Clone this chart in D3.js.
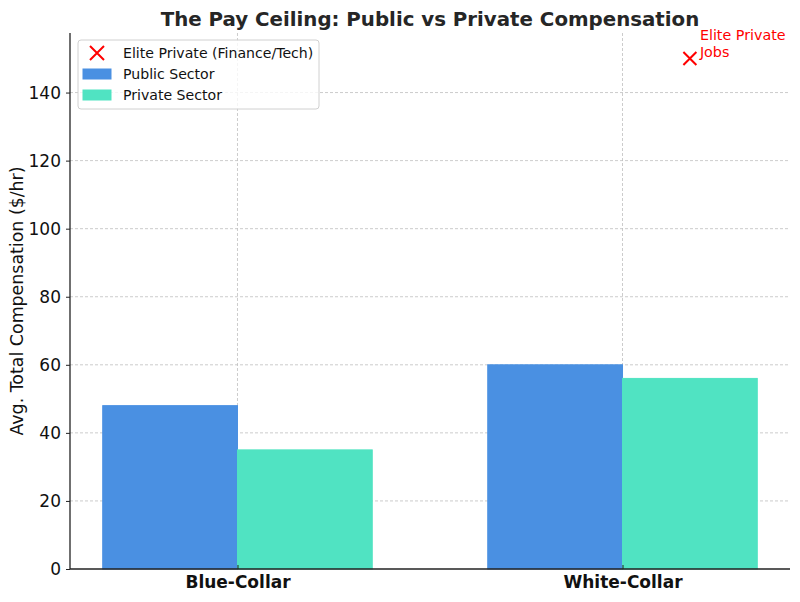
<!DOCTYPE html>
<html>
<head>
<meta charset="utf-8">
<script src="https://cdn.jsdelivr.net/npm/d3@7"></script>
<style>
    body { margin: 0; background: #fff; }
    text { font-family: "DejaVu Sans", sans-serif; }
</style>
</head>
<body>
<div id="chart"></div>
<script>
const categories = ['Blue-Collar', 'White-Collar'];
const publicValues = [48, 60];
const privateValues = [35, 56];
const eliteValue = 150;
const yTicks = [0, 20, 40, 60, 80, 100, 120, 140];
const seriesNames = ['Public Sector', 'Private Sector'];
const eliteLabel = 'Elite Private (Finance/Tech)';
const annotationLines = ['Elite Private', 'Jobs'];

const width = 800;
const height = 602;
const margin = { top: 33, right: 10, bottom: 33, left: 70 };
const innerWidth = width - margin.left - margin.right;
const innerHeight = height - margin.top - margin.bottom;

const publicColor = '#4A90E2';
const privateColor = '#50E3C2';
const gridColor = '#bfbfbf';
const textColor = '#111';
const barWidth = 0.35;

const svg = d3.select('#chart').append('svg')
    .attr('width', width)
    .attr('height', height);

svg.append('text')
    .attr('x', margin.left + innerWidth / 2)
    .attr('y', 26)
    .attr('text-anchor', 'middle')
    .attr('font-size', 19.8)
    .attr('font-weight', 'bold')
    .attr('fill', '#262626')
    .text('The Pay Ceiling: Public vs Private Compensation');

const chartGroup = svg.append('g')
    .attr('transform', `translate(${margin.left},${margin.top})`);

// numeric x like matplotlib: categories at 0, 1
const xScale = d3.scaleLinear()
    .domain([-0.435, 1.435])
    .range([0, innerWidth]);

const yScale = d3.scaleLinear()
    .domain([0, 157.5])
    .range([innerHeight, 0]);

// grid
chartGroup.append('g')
    .selectAll('line')
    .data(yTicks.slice(1))
    .enter()
    .append('line')
    .attr('x1', 0)
    .attr('x2', innerWidth)
    .attr('y1', (d) => yScale(d))
    .attr('y2', (d) => yScale(d))
    .attr('stroke', gridColor)
    .attr('stroke-width', 0.8)
    .attr('stroke-dasharray', '3,2');

chartGroup.append('g')
    .selectAll('line')
    .data(categories)
    .enter()
    .append('line')
    .attr('x1', (d, i) => xScale(i))
    .attr('x2', (d, i) => xScale(i))
    .attr('y1', 0)
    .attr('y2', innerHeight)
    .attr('stroke', gridColor)
    .attr('stroke-width', 0.8)
    .attr('stroke-dasharray', '3,2');

// bars
const barSeries = [
    { name: seriesNames[0], values: publicValues, offset: -barWidth / 2, color: publicColor },
    { name: seriesNames[1], values: privateValues, offset: barWidth / 2, color: privateColor }
];

barSeries.forEach((series) => {
    chartGroup.append('g')
        .selectAll('rect')
        .data(series.values)
        .enter()
        .append('rect')
        .attr('x', (d, i) => xScale(i + series.offset - barWidth / 2))
        .attr('y', (d) => yScale(d))
        .attr('width', xScale(barWidth) - xScale(0))
        .attr('height', (d) => innerHeight - yScale(d))
        .attr('fill', series.color)
        .attr('stroke', series.color)
        .attr('stroke-width', 1);
});

// elite marker at the private bar position of white-collar
const eliteX = xScale(1 + barWidth / 2);
const eliteY = yScale(eliteValue);
const cross = (g, cx, cy, r) => {
    g.append('path')
        .attr('d', `M${cx - r},${cy - r}L${cx + r},${cy + r}M${cx - r},${cy + r}L${cx + r},${cy - r}`)
        .attr('stroke', 'red')
        .attr('stroke-width', 2)
        .attr('fill', 'none');
};
cross(chartGroup, eliteX, eliteY, 6.5);

chartGroup.append('text')
    .attr('x', eliteX + 10)
    .attr('y', eliteY - 19)
    .attr('font-size', 14.3)
    .attr('fill', 'red')
    .selectAll('tspan')
    .data(annotationLines)
    .enter()
    .append('tspan')
    .attr('x', eliteX + 10)
    .attr('dy', (d, i) => i === 0 ? 0 : 17)
    .text((d) => d);

// axes
const yAxis = chartGroup.append('g')
    .call(d3.axisLeft(yScale).tickValues(yTicks).tickSize(4).tickPadding(5))
    .call((group) => group.select('.domain').remove());
yAxis.selectAll('text').attr('font-size', 17).attr('fill', textColor).attr('font-family', 'DejaVu Sans, sans-serif');
yAxis.selectAll('line').attr('stroke', '#222').attr('stroke-width', 1);

chartGroup.append('line')
    .attr('x1', 0).attr('x2', 0)
    .attr('y1', 0).attr('y2', innerHeight)
    .attr('stroke', '#222').attr('stroke-width', 1.3);

const xAxis = chartGroup.append('g')
    .attr('transform', `translate(0,${innerHeight})`)
    .call(d3.axisBottom(xScale).tickValues([0, 1]).tickFormat((d) => categories[d]).tickSize(-4).tickPadding(7))
    .call((group) => group.select('.domain').remove());
xAxis.selectAll('text')
    .attr('font-size', 17)
    .attr('font-weight', 'bold')
    .attr('fill', textColor)
    .attr('font-family', 'DejaVu Sans, sans-serif');
xAxis.selectAll('line').attr('stroke', '#222');

chartGroup.append('line')
    .attr('x1', 0).attr('x2', innerWidth)
    .attr('y1', innerHeight).attr('y2', innerHeight)
    .attr('stroke', '#222').attr('stroke-width', 1.3);

svg.append('text')
    .attr('transform', 'rotate(-90)')
    .attr('x', -(margin.top + innerHeight / 2))
    .attr('y', 23)
    .attr('text-anchor', 'middle')
    .attr('font-size', 17.4)
    .attr('fill', textColor)
    .text('Avg. Total Compensation ($/hr)');

// legend
const legend = svg.append('g').attr('transform', 'translate(78,40)');
legend.append('rect')
    .attr('width', 241)
    .attr('height', 69)
    .attr('rx', 3)
    .attr('fill', '#fff')
    .attr('fill-opacity', 0.8)
    .attr('stroke', '#d0d0d0');

cross(legend, 19, 13, 7);
legend.append('text')
    .attr('x', 45).attr('y', 18)
    .attr('font-size', 14.1).attr('fill', textColor)
    .text(eliteLabel);

barSeries.forEach((series, i) => {
    const y = 34 + i * 21;
    legend.append('rect')
        .attr('x', 5).attr('y', y - 5)
        .attr('width', 28).attr('height', 10)
        .attr('fill', series.color)
        .attr('stroke', series.color);
    legend.append('text')
        .attr('x', 45).attr('y', y + 5)
        .attr('font-size', 14.1).attr('fill', textColor)
        .text(series.name);
});
</script>
</body>
</html>
